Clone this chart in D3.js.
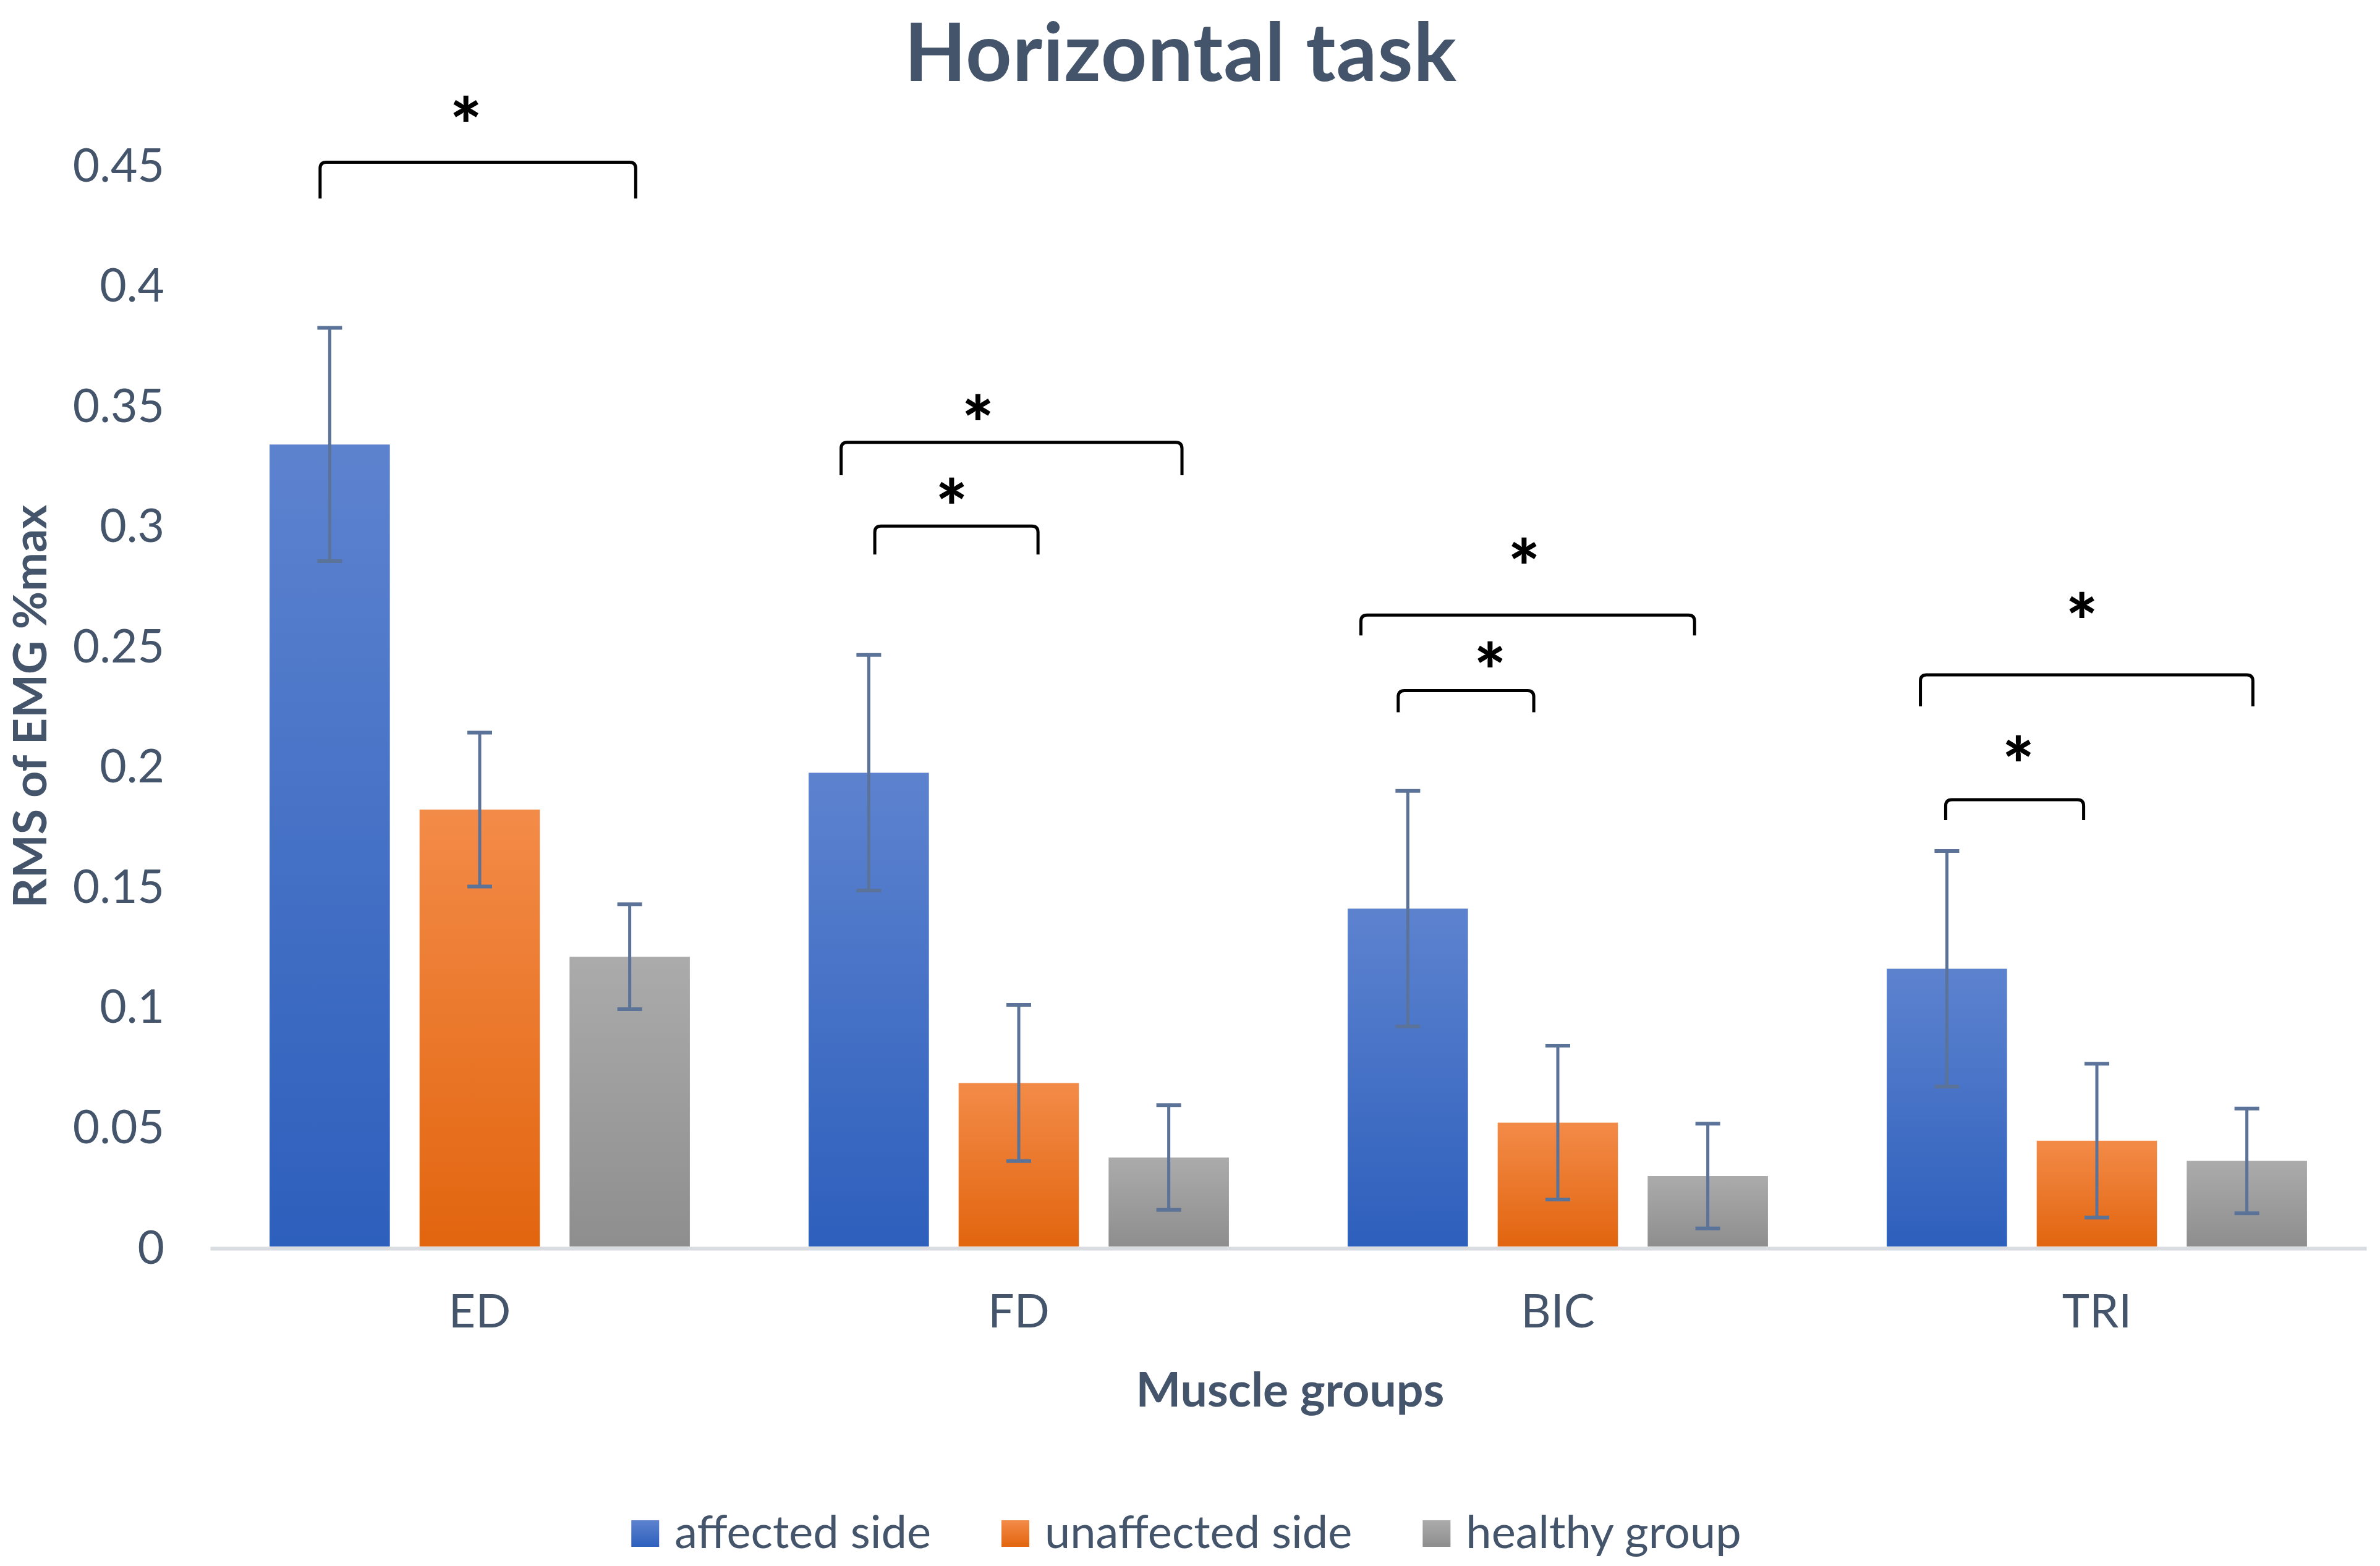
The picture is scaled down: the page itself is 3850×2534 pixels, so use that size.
<!DOCTYPE html>
<html>
<head>
<meta charset="utf-8">
<script src="https://cdn.jsdelivr.net/npm/d3@7"></script>
<style>
  html, body { margin: 0; padding: 0; background: #ffffff; }
  svg { display: block; }
</style>
</head>
<body>
<script>
// ---------------- data ----------------
const categories = ["ED", "FD", "BIC", "TRI"];
const seriesNames = ["affected side", "unaffected side", "healthy group"];
const affected      = [0.3335, 0.197, 0.1405, 0.1155];
const affectedErr   = [0.0485, 0.049, 0.049, 0.049];
const unaffected    = [0.1817, 0.068, 0.0515, 0.0440];
const unaffectedErr = [0.032, 0.0325, 0.032, 0.032];
const healthy       = [0.1205, 0.0370, 0.0293, 0.0356];
const healthyErr    = [0.0218, 0.0218, 0.0218, 0.0218];
const yTicks      = [0, 0.05, 0.1, 0.15, 0.2, 0.25, 0.3, 0.35, 0.4, 0.45];
const yTickLabels = ["0", "0.05", "0.1", "0.15", "0.2", "0.25", "0.3", "0.35", "0.4", "0.45"];
// significance brackets: category, series index from/to, bracket level, leg length, star level (data units)
const brkCategory = ["ED", "FD", "FD", "BIC", "BIC", "TRI", "TRI"];
const brkFrom     = [0, 0, 0, 0, 0, 0, 0];
const brkTo       = [2, 2, 1, 2, 1, 2, 1];
const brkLevel    = [0.4509, 0.3344, 0.2996, 0.2626, 0.2312, 0.2377, 0.1858];
const brkLeg      = [0.0151, 0.0137, 0.0118, 0.0085, 0.0090, 0.0131, 0.0085];
const brkStar     = [0.4717, 0.3474, 0.3127, 0.2878, 0.2446, 0.2652, 0.2055];
// hand-placed bracket ends / star, in bar-width units relative to the bar centres / bracket middle
const brkEndL     = [-0.08, -0.23, 0.05, -0.39, -0.08, -0.22, -0.01];
const brkEndR     = [0.05, 0.11, 0.16, -0.11, -0.20, 0.05, -0.11];
const brkStarX    = [-0.10, -0.28, -0.04, -0.03, 0.20, -0.04, 0.03];

const titleText = "Horizontal task";
const xTitle = "Muscle groups";
const yTitle = "RMS of EMG %max";

// ---------------- layout ----------------
const W = 3850, H = 2534;
const plotLeft = 340, plotRight = 3828, plotTop = 266, plotBottom = 2017;
const textColor = "#44546a";
const font = "Lato, 'Open Sans', sans-serif";
const gradColors = [
  ["#5d83cf", "#2d5fbc"],
  ["#f38b48", "#e2650f"],
  ["#ababab", "#8e8e8e"]
];
const errColor = "#5b7399";

const seriesValues = [affected, unaffected, healthy];
const seriesErrors = [affectedErr, unaffectedErr, healthyErr];

const svg = d3.select("body").append("svg")
  .attr("width", W).attr("height", H)
  .attr("viewBox", `0 0 ${W} ${H}`);

svg.append("rect").attr("width", W).attr("height", H).attr("fill", "#ffffff");

const defs = svg.append("defs");
gradColors.forEach((c, i) => {
  const g = defs.append("linearGradient").attr("id", "grad" + i)
    .attr("x1", 0).attr("y1", 0).attr("x2", 0).attr("y2", 1);
  g.append("stop").attr("offset", "0%").attr("stop-color", c[0]);
  g.append("stop").attr("offset", "100%").attr("stop-color", c[1]);
});

const x0 = d3.scaleBand().domain(categories).range([plotLeft, plotRight]).padding(0);
const x1 = d3.scaleBand().domain(d3.range(seriesNames.length))
  .range([0, x0.bandwidth()]).paddingInner(0.198).paddingOuter(0.396);
const y = d3.scaleLinear().domain([0, 0.45]).range([plotBottom, plotTop]);

// y axis (labels only)
const yAxis = d3.axisLeft(y).tickValues(yTicks)
  .tickFormat((d, i) => yTickLabels[i]).tickSize(0).tickPadding(0);
const yg = svg.append("g").attr("transform", `translate(266,0)`).call(yAxis);
yg.select(".domain").remove();
yg.selectAll("text")
  .attr("fill", textColor).attr("font-family", font).attr("font-size", 75)
  .attr("dy", "0.36em").attr("x", 0);

// bars
const barG = svg.append("g");
categories.forEach((cat, ci) => {
  seriesNames.forEach((s, si) => {
    const v = seriesValues[si][ci];
    barG.append("rect")
      .attr("x", x0(cat) + x1(si))
      .attr("y", y(v))
      .attr("width", x1.bandwidth())
      .attr("height", y(0) - y(v))
      .attr("fill", `url(#grad${si})`);
  });
});

// x axis
const xAxis = d3.axisBottom(x0).tickSize(0).tickSizeOuter(0).tickPadding(0);
const xg = svg.append("g").attr("transform", `translate(0,${plotBottom + 3})`).call(xAxis);
xg.select(".domain").attr("stroke", "#d9dce1").attr("stroke-width", 6);
xg.selectAll("text")
  .attr("fill", textColor).attr("font-family", font).attr("font-size", 75)
  .attr("dy", 0).attr("y", 2148 - plotBottom - 3);

// error bars
const errG = svg.append("g").attr("stroke", errColor).attr("stroke-width", 5).attr("fill", "none");
const capW = 40;
categories.forEach((cat, ci) => {
  seriesNames.forEach((s, si) => {
    const v = seriesValues[si][ci], e = seriesErrors[si][ci];
    const cx = x0(cat) + x1(si) + x1.bandwidth() / 2;
    errG.append("line").attr("x1", cx).attr("x2", cx).attr("y1", y(v + e)).attr("y2", y(v - e));
    errG.append("line").attr("x1", cx - capW / 2).attr("x2", cx + capW / 2).attr("y1", y(v + e)).attr("y2", y(v + e)).attr("stroke-width", 6);
    errG.append("line").attr("x1", cx - capW / 2).attr("x2", cx + capW / 2).attr("y1", y(v - e)).attr("y2", y(v - e)).attr("stroke-width", 6);
  });
});

// significance brackets
const brG = svg.append("g");
const r = 10;
brkCategory.forEach((cat, i) => {
  const bw = x1.bandwidth();
  const xa = x0(cat) + x1(brkFrom[i]) + bw / 2 + brkEndL[i] * bw;
  const xb = x0(cat) + x1(brkTo[i]) + bw / 2 + brkEndR[i] * bw;
  const yt = y(brkLevel[i]);
  const yb = y(brkLevel[i] - brkLeg[i]);
  const p = d3.path();
  p.moveTo(xa, yb);
  p.lineTo(xa, yt + r);
  p.quadraticCurveTo(xa, yt, xa + r, yt);
  p.lineTo(xb - r, yt);
  p.quadraticCurveTo(xb, yt, xb, yt + r);
  p.lineTo(xb, yb);
  brG.append("path").attr("d", p.toString())
    .attr("fill", "none").attr("stroke", "#000").attr("stroke-width", 5);
  brG.append("text")
    .attr("x", (xa + xb) / 2 + brkStarX[i] * bw)
    .attr("y", y(brkStar[i]) + 66)
    .attr("text-anchor", "middle")
    .attr("font-family", font).attr("font-weight", "900").attr("font-size", 122)
    .attr("fill", "#000").text("*");
});

// title
svg.append("text").attr("x", 1910).attr("y", 131).attr("text-anchor", "middle")
  .attr("font-family", font).attr("font-weight", "bold").attr("font-size", 130)
  .attr("letter-spacing", 1).attr("fill", textColor).text(titleText);

// axis titles
svg.append("text").attr("x", 2087).attr("y", 2276).attr("text-anchor", "middle")
  .attr("font-family", font).attr("font-weight", "bold").attr("font-size", 77)
  .attr("fill", textColor).text(xTitle);

svg.append("text").attr("transform", "translate(75,1143) rotate(-90)")
  .attr("text-anchor", "middle")
  .attr("font-family", font).attr("font-weight", "bold").attr("font-size", 75)
  .attr("fill", textColor).text(yTitle);

// legend
const legG = svg.append("g");
const sqW = 45, sqH = 43, sqGap = 25, itemGap = 114, legBase = 2505;
const items = seriesNames.map((name, i) => {
  const g = legG.append("g");
  g.append("rect").attr("x", 0).attr("y", legBase - sqH - 2).attr("width", sqW).attr("height", sqH)
    .attr("fill", `url(#grad${i})`);
  const t = g.append("text").attr("x", sqW + sqGap).attr("y", legBase)
    .attr("font-family", font).attr("font-size", 74).attr("fill", textColor).text(name);
  return { g, w: sqW + sqGap + t.node().getComputedTextLength() };
});
const totalW = d3.sum(items, d => d.w) + itemGap * (items.length - 1);
let cx = 1919 - totalW / 2;
items.forEach(it => {
  it.g.attr("transform", `translate(${cx},0)`);
  cx += it.w + itemGap;
});
</script>
</body>
</html>
